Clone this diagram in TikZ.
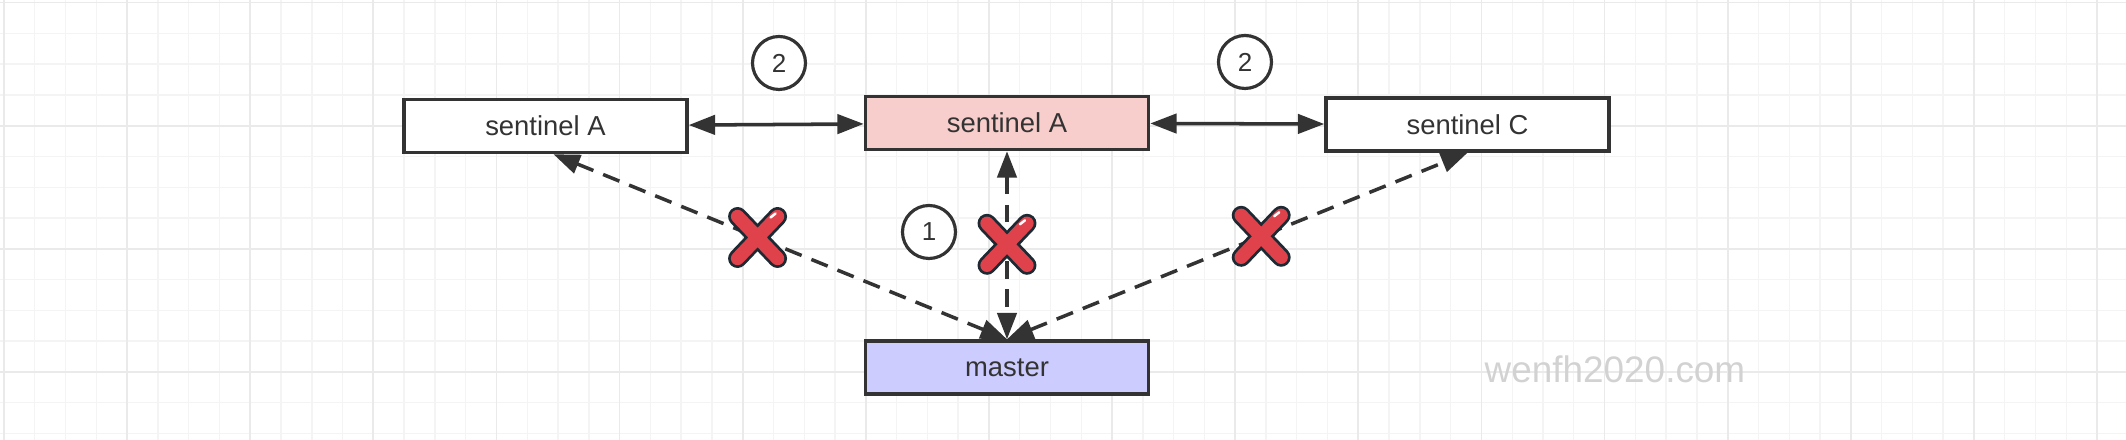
\documentclass[tikz,border=0pt]{standalone}
\usepackage{fontspec}
\setmainfont{Liberation Sans}
\usetikzlibrary{positioning, arrows.meta}
\definecolor{boxline}{HTML}{333333}
\definecolor{pinkfill}{HTML}{F8CECC}
\definecolor{masterfill}{HTML}{CCCCFF}
\definecolor{gridminor}{HTML}{F4F4F4}
\definecolor{gridmajor}{HTML}{EAEAEA}
\definecolor{crossred}{HTML}{E0424B}
\definecolor{crossline}{HTML}{1E2A33}
\definecolor{markgray}{HTML}{D2D2D2}
\tikzset{
>={Triangle[length=7.5pt,width=5.5pt]}, % filled heads, as on the sketch
node distance=1.75cm, % gap between the sentinel boxes
sentbox/.style={draw=boxline, line width=1pt, fill=white, minimum width=2.83cm, minimum height=0.53cm, inner sep=0pt, text=boxline, font=\fontsize{7.8}{9}\selectfont}, % every box
numcirc/.style={circle, draw=boxline, line width=0.9pt, fill=white, minimum size=0.53cm, inner sep=0pt, text=boxline, font=\fontsize{7.4}{9}\selectfont}, % step numbers
link/.style={<->, draw=boxline, line width=1pt}, % working link
lost/.style={link, dash pattern=on 5pt off 3pt}, % broken link
failmark/.pic={
    \draw[crossline, line width=5.4pt, line cap=round] (-0.2,-0.21) -- (0.2,0.21) (-0.2,0.21) -- (0.2,-0.21);
    \draw[crossred, line width=3.8pt, line cap=round] (-0.2,-0.21) -- (0.2,0.21) (-0.2,0.21) -- (0.2,-0.21);
    \draw[white, line width=0.7pt, line cap=round] (0.13,0.2) -- (0.18,0.24);
},
}

\begin{document}
\begin{tikzpicture}
\useasboundingbox (0,0) rectangle (21.26,-4.40);
% grid paper
\begin{scope}[shift={(0.04,-0.026)}]
    \draw[gridminor, line width=0.4pt] (-0.04,0.026) grid[step=0.3078] (21.22,-4.374);
    \draw[gridmajor, line width=0.5pt] (-0.04,0.026) grid[step=1.2312] (21.22,-4.374);
\end{scope}

\node[sentbox, fill=pinkfill] (mA) at (10.07,-1.23) {sentinel A};
\node[sentbox, left=of mA, yshift=-0.03cm] (sa) {sentinel A};
\node[sentbox, right=1.74cm of mA, yshift=-0.015cm] (sc) {sentinel C};
\node[sentbox, fill=masterfill, below=1.88cm of mA] (ms) {master};

\node[numcirc] (two1) at (7.79,-0.63) {2};
\node[numcirc] (two2) at (12.45,-0.62) {2};
\node[numcirc] (one) at (9.29,-2.32) {1};

\node[text=markgray, font=\fontsize{10.5}{12}\selectfont] (wm) at (16.15,-3.69) {wenfh2020.com};

\draw[link] (sa) -- (mA);
\draw[link] (mA) -- (sc);
\draw[lost] ([xshift=0.08cm]sa.south) -- (ms.north);
\draw[lost] (mA) -- (ms);
\draw[lost] (ms.north) -- (sc.south);

% the failed checks
\path ([xshift=0.08cm]sa.south) -- pic[pos=0.45] {failmark} (ms.north);
\path (mA.south) -- pic[pos=0.495] {failmark} (ms.north);
\path (ms.north) -- pic[pos=0.552] {failmark} (sc.south);
\end{tikzpicture}
\end{document}
